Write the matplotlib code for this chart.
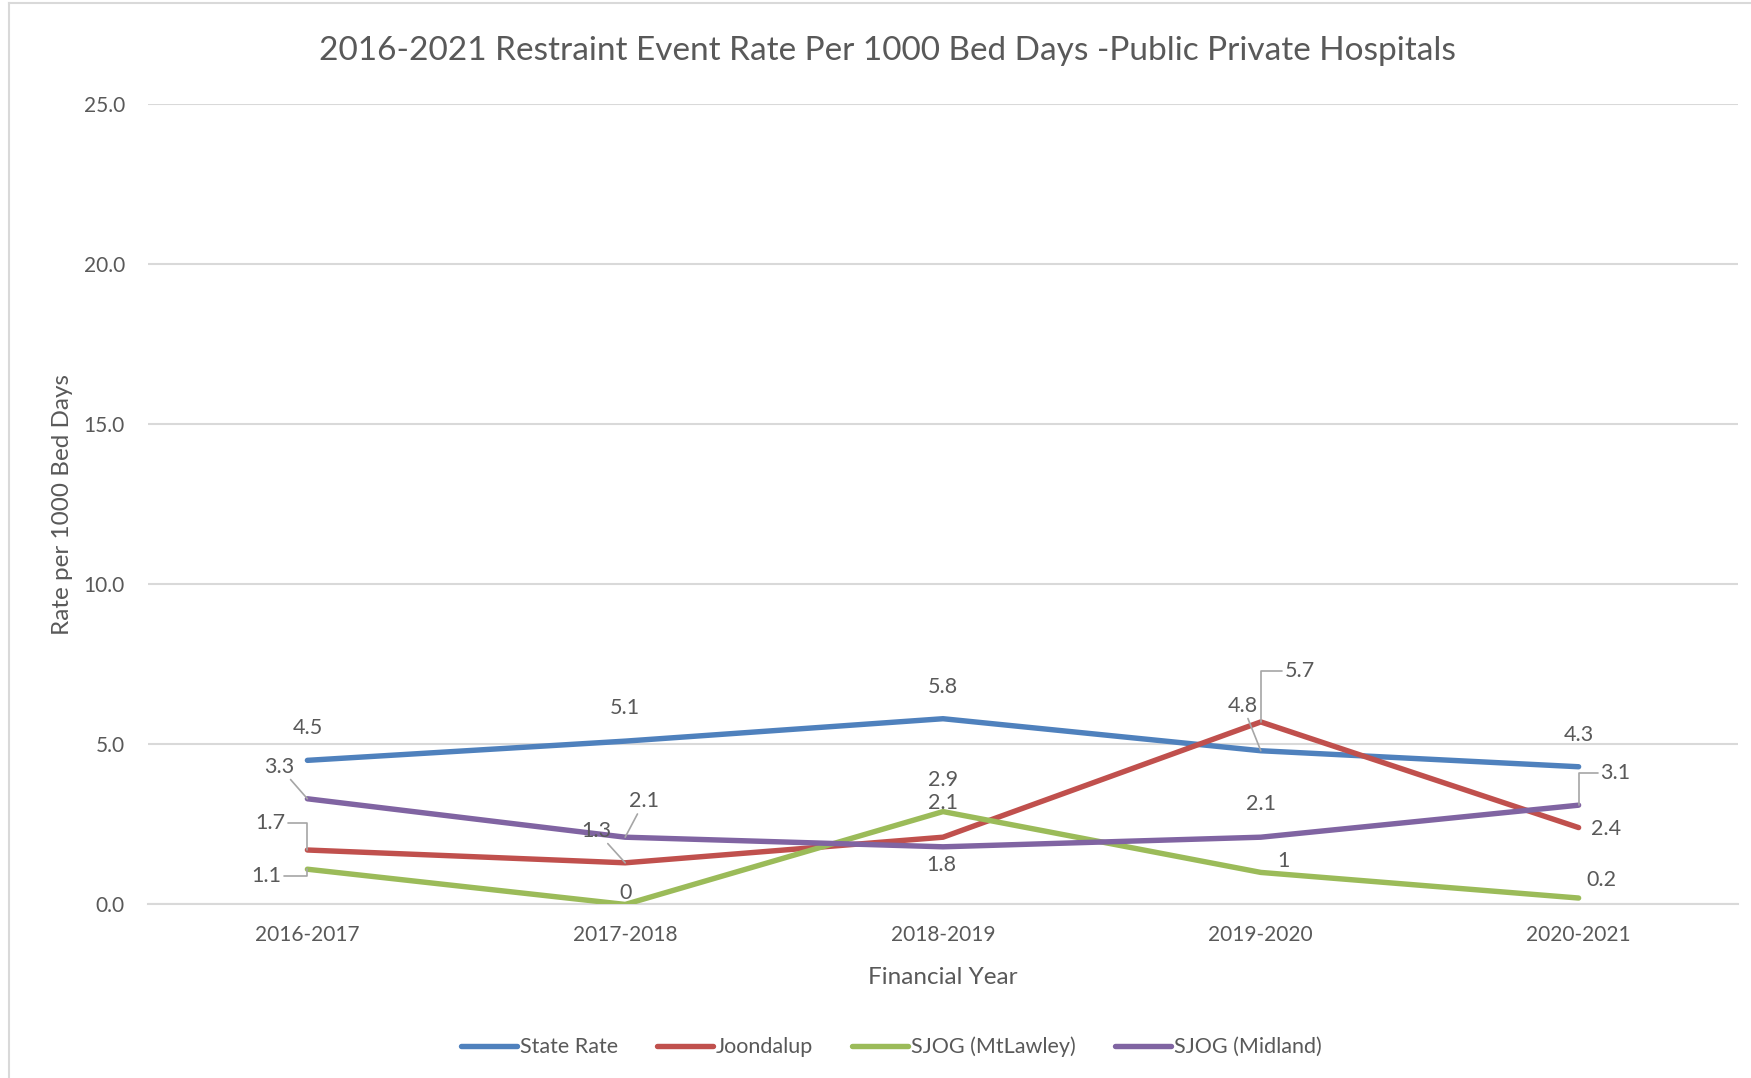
import matplotlib.pyplot as plt
from matplotlib.lines import Line2D

plt.rcParams['font.family'] = ['Lato', 'DejaVu Sans']

years = ['2016-2017', '2017-2018', '2018-2019', '2019-2020', '2020-2021']
state_rate = [4.5, 5.1, 5.8, 4.8, 4.3]
joondalup = [1.7, 1.3, 2.1, 5.7, 2.4]
sjog_mtlawley = [1.1, 0, 2.9, 1, 0.2]
sjog_midland = [3.3, 2.1, 1.8, 2.1, 3.1]

# label text as shown in the chart
state_txt = ['4.5', '5.1', '5.8', '4.8', '4.3']
joon_txt = ['1.7', '1.3', '2.1', '5.7', '2.4']
mtl_txt = ['1.1', '0', '2.9', '1', '0.2']
mid_txt = ['3.3', '2.1', '1.8', '2.1', '3.1']

text_col = '#595959'
grid_col = '#D9D9D9'
leader_col = '#A6A6A6'

fig = plt.figure(figsize=(17.51, 10.78), dpi=100)
ax = fig.add_axes([0.0848, 0.161, 0.9075, 0.7426])

series = [
    ('State Rate', state_rate, state_txt, '#4F81BD'),
    ('Joondalup', joondalup, joon_txt, '#C0504D'),
    ('SJOG (MtLawley)', sjog_mtlawley, mtl_txt, '#9BBB59'),
    ('SJOG (Midland)', sjog_midland, mid_txt, '#8064A2'),
]

x = list(range(len(years)))
for name, vals, _, col in series:
    ax.plot(x, vals, color=col, lw=3.9, solid_capstyle='round',
            solid_joinstyle='round', label=name, zorder=3)

# label offsets in pixels (dx, dy) and leader style: None, 'line', 'elbow'
offsets = {
    'State Rate': [(0, 32, None), (0, 33, None), (0, 32, None), (-18, 45, 'line'), (0, 32, None)],
    'Joondalup': [(-37, 27, 'elbow'), (-29, 32, 'line'), (0, 34, None), (39, 51, 'elbow'), (27, -1, None)],
    'SJOG (MtLawley)': [(-41, -7, 'elbow'), (0, 11, None), (0, 32, None), (23, 11, None), (23, 18, None)],
    'SJOG (Midland)': [(-28, 32, 'line'), (19, 36, 'line'), (-2, -18, None), (0, 33, None), (37, 32, 'elbow')],
}

for name, vals, txts, col in series:
    for i, (v, t) in enumerate(zip(vals, txts)):
        dx, dy, style = offsets[name][i]
        kw = {}
        if style == 'line':
            kw['arrowprops'] = dict(arrowstyle='-', color=leader_col, lw=1.2,
                                    shrinkA=0, shrinkB=0)
        elif style == 'elbow':
            kw['arrowprops'] = dict(arrowstyle='-', color=leader_col, lw=1.2,
                                    shrinkA=0, shrinkB=0,
                                    connectionstyle='angle,angleA=0,angleB=90,rad=0')
        ax.annotate(t, xy=(i, v), xytext=(dx, dy), textcoords='offset pixels',
                    ha='center', va='center', fontsize=15.5, color=text_col,
                    zorder=4, **kw)

ax.set_xlim(-0.5, 4.5)
ax.set_ylim(0, 25)
ax.set_yticks([0, 5, 10, 15, 20, 25])
ax.set_yticklabels(['0.0', '5.0', '10.0', '15.0', '20.0', '25.0'])
ax.set_xticks(x)
ax.set_xticklabels(years)
ax.tick_params(axis='both', length=0, labelsize=15, labelcolor=text_col)
ax.tick_params(axis='y', pad=17)
ax.tick_params(axis='x', pad=15)
ax.grid(axis='y', color=grid_col, lw=1.5, zorder=0)
ax.set_axisbelow(True)
for s in ['top', 'right', 'left']:
    ax.spines[s].set_visible(False)
ax.spines['bottom'].set_color(grid_col)
ax.spines['bottom'].set_linewidth(1.5)

ax.set_xlabel('Financial Year', fontsize=17.5, color=text_col, labelpad=15.5)
ax.set_ylabel('Rate per 1000 Bed Days', fontsize=17.5, color=text_col, labelpad=8)

fig.text(0.507, 0.953, '2016-2021 Restraint Event Rate Per 1000 Bed Days -Public Private Hospitals',
         ha='center', va='center', fontsize=24, color=text_col)

fig.legend(loc='center', bbox_to_anchor=(0.509, 0.029), ncol=4, frameon=False,
           fontsize=15.5, labelcolor=text_col, handlelength=2.6, handletextpad=0.15,
           columnspacing=1.8)

# chart-area border
fig.add_artist(Line2D([9 / 1751, 9 / 1751], [0, 1 - 3 / 1078], color=grid_col, lw=1.5))
fig.add_artist(Line2D([9 / 1751, 1], [1 - 3 / 1078, 1 - 3 / 1078], color=grid_col, lw=1.5))

fig.savefig('out.png', dpi=100)
